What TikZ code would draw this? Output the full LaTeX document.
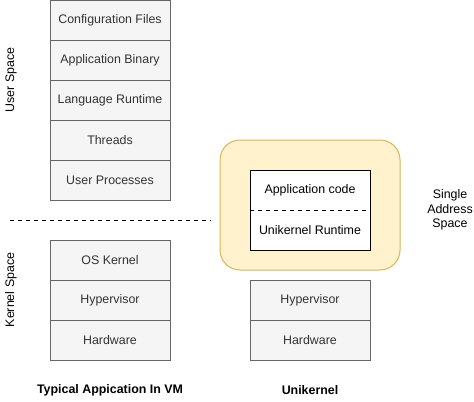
\documentclass[tikz,border=0pt]{standalone}
\usepackage{fontspec}
\setmainfont{Liberation Sans}
\definecolor{boxfill}{HTML}{F5F5F5}
\definecolor{boxline}{HTML}{666666}
\definecolor{boxtext}{HTML}{333333}
\definecolor{yfill}{HTML}{FFF2CC}
\definecolor{yline}{HTML}{D6B656}
\begin{document}
\begin{tikzpicture}[x=0.75pt,y=-0.75pt,
  font=\fontsize{9.3}{10.8}\selectfont,
  layer/.style={draw=boxline,fill=boxfill,text=boxtext,line width=0.75pt,minimum width=90pt,minimum height=30pt,inner sep=0pt},
  side/.style={rotate=90,anchor=center},
  caption/.style={font=\fontsize{9.3}{10.8}\selectfont\bfseries}]
\useasboundingbox (0,0) rectangle (474,401);
% left user stack
\node[layer] (cfg) at (110,20.5) {Configuration Files};
\node[layer] (bin) at (110,60.5) {Application Binary};
\node[layer] (lrt) at (110,100.5) {Language Runtime};
\node[layer] (thr) at (110,140.5) {Threads};
\node[layer] (upr) at (110,180.5) {User Processes};
% kernel stack
\node[layer] (osk) at (110,260.5) {OS Kernel};
\node[layer] (hyp1) at (110,300.5) {Hypervisor};
\node[layer] (hw1) at (110,340.5) {Hardware};
% divider
\coordinate (dl) at (10,220);
\coordinate (dr) at (211,220);
\draw[dashed,line width=0.75pt] (dl) -- (dr);
% side labels
\node[side] (us) at (11,80) {User Space};
\node[side] (ks) at (11,290) {Kernel Space};
% unikernel
\node[draw=yline,fill=yfill,line width=0.75pt,rounded corners=15pt,minimum width=135pt,minimum height=97.5pt] (sas) at (310,205) {};
\node[draw=black,fill=white,line width=0.75pt,minimum width=90pt,minimum height=60pt] (inner) at (310,210) {};
\draw[dashed,line width=0.75pt] (inner.west) -- (inner.east);
\node (app) at (310,190.5) {Application code};
\node (urt) at (310,230.5) {Unikernel Runtime};
\node[layer] (hyp2) at (310,300.5) {Hypervisor};
\node[layer] (hw2) at (310,340.5) {Hardware};
\node[align=center] (sastext) at (450,210) {Single\\Address\\Space};
% captions
\node[caption] (cap1) at (110,390) {Typical Appication In VM};
\node[caption] (cap2) at (310,390) {Unikernel};
\end{tikzpicture}
\end{document}
